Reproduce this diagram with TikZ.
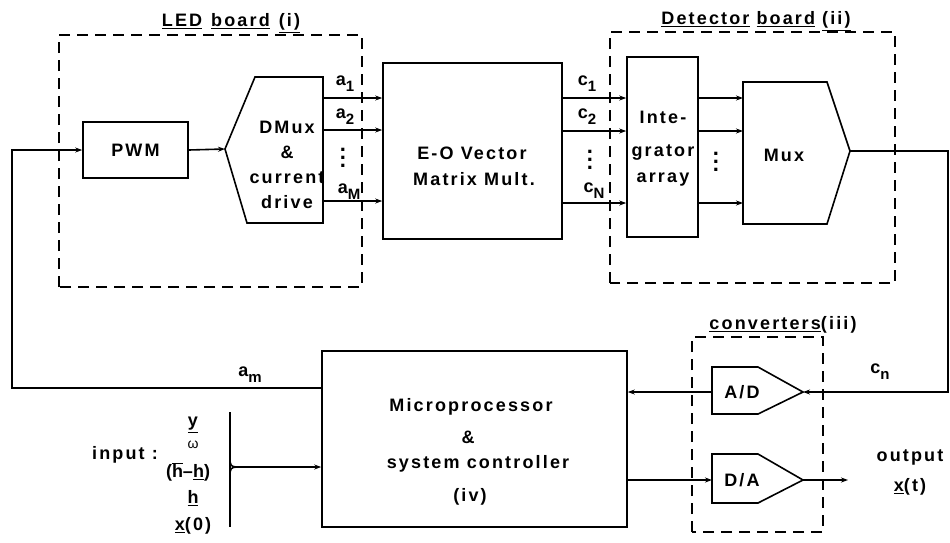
\documentclass[tikz,border=0pt]{standalone}
\usepackage{fontspec}
\newfontfamily\lblfont{Liberation Sans}[LetterSpace=12]
\usetikzlibrary{arrows.meta,calc}
\newcommand{\lsub}[1]{\raisebox{-6pt}{\fontsize{15}{15}\selectfont #1}}
\newcommand{\bigdots}{{\fontsize{22}{22}\selectfont\vbox{\baselineskip=8pt\lineskiplimit=0pt\hbox{.}\hbox{.}\hbox{.}}}}
\begin{document}
\begin{tikzpicture}[x=1pt,y=-1pt,
  every node/.style={font={\lblfont\bfseries\fontsize{18}{25}\selectfont},inner sep=0pt},
  ln/.style={line width=1.6pt,line join=miter},
  arr/.style={ln,-{Stealth[length=7pt,width=5pt]}},
  dbox/.style={line width=1.6pt,dash pattern=on 11pt off 7pt},
  blk/.style={draw,line width=1.6pt,inner sep=0pt}]
\useasboundingbox (0,0) rectangle (950,542);

% dashed group boxes
\draw[dbox] (59,287) -- (59,35) -- (362,35) -- (362,287) -- cycle;
\node (ledlbl) at (231,23) {\underline{LED}\hspace{9pt}\underline{board}\hspace{9pt}\underline{(i)}};
\draw[dbox] (610,283) -- (610,32) -- (895,32) -- (895,283) -- cycle;
\node (detlbl) at (756,21) {\underline{Detector}\hspace{7pt}\underline{board}\hspace{7pt}\underline{(ii)}};
\draw[dbox] (692,532) -- (692,337) -- (823,337) -- (823,532) -- cycle;
\node (convlbl) at (783,325) {\underline{converters}(iii)};

% blocks
\node[blk,minimum width=105pt,minimum height=56pt] (pwm) at (135.5,150) {PWM};
\node[blk,minimum width=179pt,minimum height=176pt] (eo) at (472.5,151) {};
\node (eot1) at (472,153) {E-O Vector};
\node (eot2) at (474,179) {Matrix Mult.};
\node[blk,minimum width=71pt,minimum height=180pt] (integ) at (662.5,147) {};
\node (it1) at (663,117) {Inte-};
\node (it2) at (663,153) {grator};
\node (it3) at (663,180) {array};
\node[blk,minimum width=305pt,minimum height=176pt] (micro) at (474.5,439) {};
\node (mt1) at (471,407) {Microprocessor};
\node (mt2) at (468,437) {\&};
\node (mt3) at (478,464) {system controller};
\node (mt4) at (470,497) {(iv)};

% DMux
\draw[ln] (225,149) coordinate (dmT) -- (255,77) -- (323,77) coordinate (dmTR)
  -- (323,223) coordinate (dmBR) -- (247,223) -- cycle;
\node[align=center] (dmtxt) at (287,165) {DMux\\\&\\current\\drive};

% Mux
\draw[ln] (743,82) coordinate (muxTL) -- (827,82) -- (850,151) coordinate (muxT)
  -- (827,224) -- (743,224) coordinate (muxBL) -- cycle;
\node (muxtxt) at (784,155) {Mux};

% A/D and D/A
\draw[ln] (712,367) -- (758,367) -- (803,392) coordinate (adT) -- (758,414)
  -- (712,414) -- cycle;
\coordinate (adL) at (712,392);
\node (adtxt) at (742,392) {A/D};
\draw[ln] (712,454) -- (758,454) -- (803,480) coordinate (daT) -- (758,503)
  -- (712,503) -- cycle;
\coordinate (daL) at (712,480);
\node (datxt) at (742,480) {D/A};

% PWM chain
\coordinate (fbB) at (12,388);
\draw[arr] (micro.west |- fbB) -- (fbB) |- (pwm.west);
\draw[arr] (pwm.east) -- (dmT);
\foreach \yy in {98,130,201}{
  \draw[arr] (dmTR |- 0,\yy) -- (eo.west |- 0,\yy);
}
\foreach \yy in {98,131,203}{
  \draw[arr] (eo.east |- 0,\yy) -- (integ.west |- 0,\yy);
  \draw[arr] (integ.east |- 0,\yy) -- (muxTL |- 0,\yy);
}
\node (a1) at (345,84) {a\lsub{1}};
\node (a2) at (345,117) {a\lsub{2}};
\node (ad) at (343,158) {\bigdots};
\node (aM) at (349,192) {a\lsub{M}};
\node (c1) at (587,84) {c\lsub{1}};
\node (c2) at (587,117) {c\lsub{2}};
\node (cd) at (590,160) {\bigdots};
\node (cN) at (594,191) {c\lsub{N}};
\node (id) at (716,162) {\bigdots};

% feedback from Mux
\coordinate (rc1) at (948,151);
\coordinate (rc2) at (948,392);
\draw[arr] (muxT) -- (rc1) -- (rc2) -- (adT);
\draw[arr] (adL) -- (micro.east |- adL);
\draw[arr] (micro.east |- daL) -- (daL);
\coordinate (outE) at (848,480);
\draw[arr] (daT) -- (outE);

\node (am) at (250,375) {a\lsub{m}};
\node (cn) at (880,372) {c\lsub{n}};
\node (out1) at (910,457) {output};
\node (out2) at (910,487) {\underline{x}(t)};

% input
\draw[ln] (230,412) -- (230,527);
\draw[ln] (230,459) .. controls (230,465) and (231,467) .. (237,467);
\draw[ln] (230,475) .. controls (230,469) and (231,467) .. (237,467);
\coordinate (inJ) at (237,467);
\draw[arr] (inJ) -- (micro.west |- inJ);
\node (inlbl) at (125,455) {input :};
\node (in1) at (193,425) {\underline{y}};
\node (in1b) at (193,445) {\mdseries\fontsize{14}{14}\selectfont ω};
\node (in2) at (188,472) {($\overline{\mbox{h}}$–\underline{h})};
\node (in3) at (193,498) {\underline{h}};
\node (in4) at (193,526) {\underline{x}(0)};
\end{tikzpicture}
\end{document}
